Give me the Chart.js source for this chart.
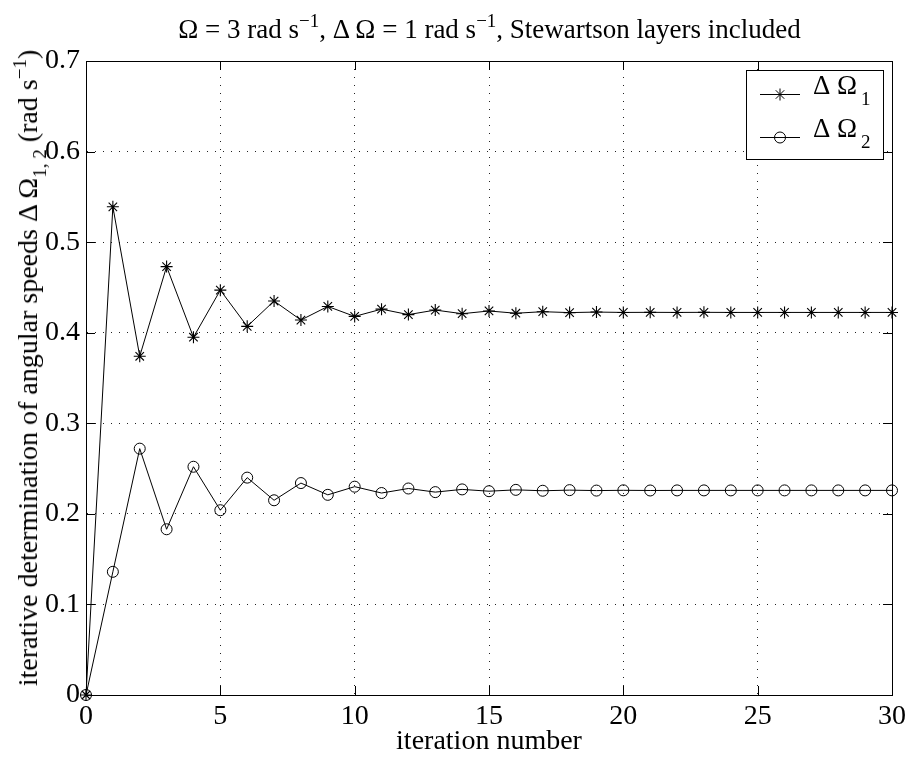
<!DOCTYPE html>
<html>
<head>
<meta charset="utf-8">
<script src="https://cdn.jsdelivr.net/npm/chart.js@4"></script>
<style>
  body { margin: 0; background: #fff; }
  #wrap { position: relative; width: 911px; height: 758px; font-family: "Liberation Serif", "Times New Roman", serif; color: #000; }
  #title { position: absolute; left: 86px; width: 807px; top: 16px; text-align: center; font-size: 27px; line-height: 27px; white-space: nowrap; }
  #ylabel { position: absolute; left: 28px; top: 368px; font-size: 28px; line-height: 28px; white-space: nowrap;
            transform: translate(-50%, -50%) rotate(-90deg); }
  sup, sub { font-size: 19px; line-height: 0; }
  sup { vertical-align: 11px; }
  sub { vertical-align: -9px; }
</style>
</head>
<body>
<div id="wrap">
  <canvas id="chart" width="911" height="758"></canvas>
  <div id="title">Ω = 3 rad s<sup>−1</sup>, Δ Ω = 1 rad s<sup>−1</sup>, Stewartson layers included</div>
  <div id="ylabel">iterative determination of angular speeds Δ Ω<sub>1, 2</sub> (rad s<sup>−1</sup>)</div>
</div>
<script>
const iterations = [0, 1, 2, 3, 4, 5, 6, 7, 8, 9, 10, 11, 12, 13, 14, 15,
  16, 17, 18, 19, 20, 21, 22, 23, 24, 25, 26, 27, 28, 29, 30];

const deltaOmega1 = [0, 0.539, 0.374, 0.473, 0.395, 0.447, 0.407, 0.435, 0.414, 0.429,
  0.418, 0.426, 0.420, 0.425, 0.421, 0.424, 0.4215, 0.4232, 0.4222, 0.4228,
  0.4224, 0.4225, 0.4224, 0.4225, 0.4224, 0.4224, 0.4224, 0.4224, 0.4224, 0.4224, 0.4224];

const deltaOmega2 = [0, 0.136, 0.272, 0.183, 0.252, 0.204, 0.240, 0.215, 0.234, 0.221,
  0.230, 0.223, 0.228, 0.224, 0.227, 0.225, 0.2265, 0.2255, 0.2262, 0.2257,
  0.2260, 0.2258, 0.2259, 0.2259, 0.2259, 0.2259, 0.2259, 0.2259, 0.2259, 0.2259, 0.2259];

const xTicks = [0, 5, 10, 15, 20, 25, 30];
const yTicks = [0, 0.1, 0.2, 0.3, 0.4, 0.5, 0.6, 0.7];

const serif = '"Liberation Serif", "Times New Roman", serif';

// box round the axes plus inward ticks on all four sides, like matlab
const axesBox = {
  id: 'axesBox',
  afterDatasetsDraw(chart) {
    const { ctx, chartArea: a, scales: { x, y } } = chart;
    const len = 9;
    ctx.save();
    ctx.strokeStyle = '#000';
    ctx.lineWidth = 1;
    ctx.beginPath();
    xTicks.forEach((v) => {
      const px = Math.round(x.getPixelForValue(v)) + 0.5;
      ctx.moveTo(px, a.bottom); ctx.lineTo(px, a.bottom - len);
      ctx.moveTo(px, a.top); ctx.lineTo(px, a.top + len);
    });
    yTicks.forEach((v) => {
      const py = Math.round(y.getPixelForValue(v)) + 0.5;
      ctx.moveTo(a.left, py); ctx.lineTo(a.left + len, py);
      ctx.moveTo(a.right, py); ctx.lineTo(a.right - len, py);
    });
    ctx.stroke();
    ctx.strokeRect(Math.round(a.left) + 0.5, Math.round(a.top) + 0.5,
      Math.round(a.right - a.left), Math.round(a.bottom - a.top));
    ctx.restore();
  }
};

// legend with subscripts, drawn by hand
const subLegend = {
  id: 'subLegend',
  afterDraw(chart) {
    const { ctx } = chart;
    const box = { left: 746, top: 70, right: 883, bottom: 159 };
    const rows = [94, 137];
    ctx.save();
    ctx.fillStyle = '#fff';
    ctx.fillRect(box.left, box.top, box.right - box.left, box.bottom - box.top);
    ctx.strokeStyle = '#000';
    ctx.lineWidth = 1;
    ctx.strokeRect(box.left + 0.5, box.top + 0.5, box.right - box.left, box.bottom - box.top);

    chart.data.datasets.forEach((ds, i) => {
      const yy = rows[i] + 0.5;
      ctx.strokeStyle = '#000';
      ctx.lineWidth = ds.borderWidth;
      ctx.beginPath();
      ctx.moveTo(760, yy);
      ctx.lineTo(800, yy);
      ctx.stroke();
      ctx.fillStyle = 'rgba(0,0,0,0)';
      Chart.helpers.drawPoint(ctx, {
        pointStyle: ds.pointStyle,
        radius: ds.pointRadius,
        borderWidth: ds.pointBorderWidth,
        rotation: 0
      }, 780, yy);

      ctx.fillStyle = '#000';
      ctx.textBaseline = 'alphabetic';
      ctx.textAlign = 'left';
      ctx.font = '27px ' + serif;
      ctx.fillText('Δ Ω', 813, rows[i]);
      ctx.font = '19px ' + serif;
      ctx.fillText(String(i + 1), 861, rows[i] + 11);
    });
    ctx.restore();
  }
};

new Chart(document.getElementById('chart'), {
  type: 'line',
  data: {
    labels: iterations,
    datasets: [
      {
        label: 'ΔΩ1',
        data: deltaOmega1,
        borderColor: '#000',
        borderWidth: 1,
        pointStyle: 'star',
        pointRadius: 6,
        pointBorderWidth: 1.1,
        pointBorderColor: '#000',
        pointBackgroundColor: 'rgba(0,0,0,0)',
        tension: 0,
        clip: false
      },
      {
        label: 'ΔΩ2',
        data: deltaOmega2,
        borderColor: '#000',
        borderWidth: 1,
        pointStyle: 'circle',
        pointRadius: 5.5,
        pointBorderWidth: 1,
        pointBorderColor: '#000',
        pointBackgroundColor: 'rgba(0,0,0,0)',
        tension: 0,
        clip: false
      }
    ]
  },
  options: {
    responsive: false,
    animation: false,
    layout: { padding: { top: 61, right: 18, left: 0, bottom: 0 } },
    plugins: {
      legend: { display: false },
      tooltip: { enabled: false }
    },
    scales: {
      x: {
        type: 'linear',
        min: 0,
        max: 30,
        afterBuildTicks(scale) { scale.ticks = xTicks.map((v) => ({ value: v })); },
        afterFit(scale) { scale.height = 63; },
        ticks: { color: '#000', font: { family: serif, size: 28 }, padding: 5, maxRotation: 0 },
        grid: { color: '#222', lineWidth: 1, drawTicks: false },
        border: { display: true, color: '#000', width: 1, dash: [1, 7] },
        title: {
          display: true,
          text: 'iteration number',
          color: '#000',
          font: { family: serif, size: 28 },
          padding: { top: 0, bottom: 0 }
        }
      },
      y: {
        min: 0,
        max: 0.7,
        afterBuildTicks(scale) { scale.ticks = yTicks.map((v) => ({ value: v })); },
        afterFit(scale) { scale.width = 86; },
        ticks: {
          color: '#000',
          font: { family: serif, size: 28 },
          padding: 6,
          callback: (v) => (v === 0 ? '0' : v.toFixed(1))
        },
        grid: { color: '#222', lineWidth: 1, drawTicks: false },
        border: { display: true, color: '#000', width: 1, dash: [1, 7] }
      }
    }
  },
  plugins: [axesBox, subLegend]
});
</script>
</body>
</html>
